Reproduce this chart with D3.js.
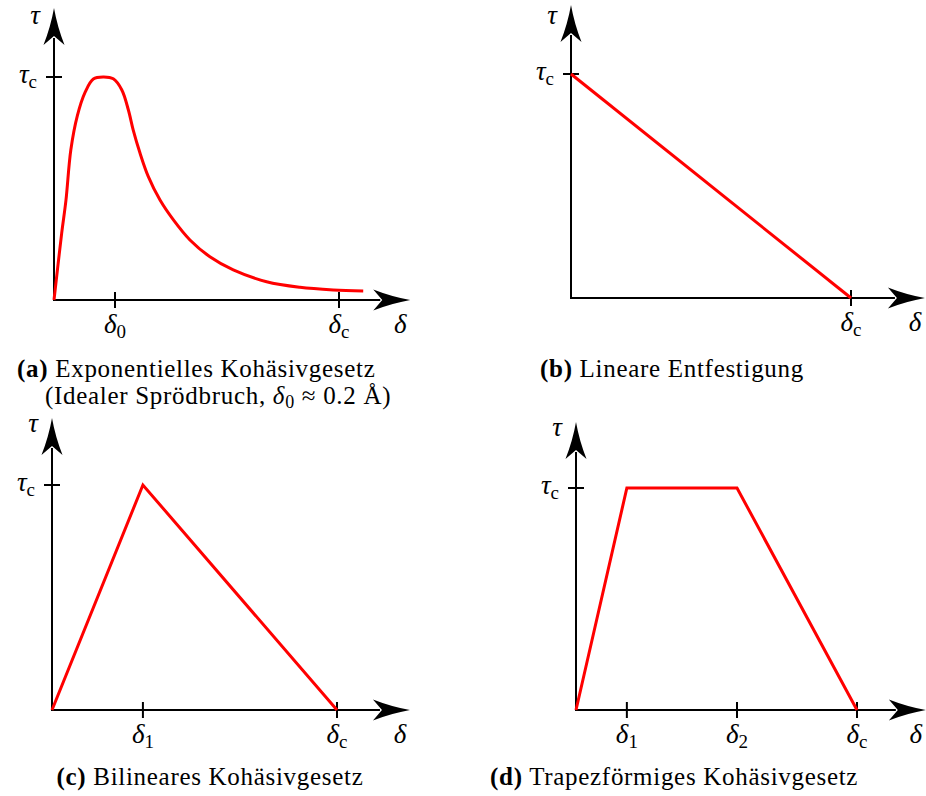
<!DOCTYPE html>
<html>
<head>
<meta charset="utf-8">
<script src="https://cdn.jsdelivr.net/npm/d3@7"></script>
<style>
  body{margin:0;background:#fff;}
  svg{display:block;}
</style>
</head>
<body>
<svg></svg>
<script>
// (a) exponential law (delta in units of delta_c, tau in units of tau_c)
var expDelta = [0, 0.027, 0.042, 0.059, 0.082, 0.109, 0.138, 0.173, 0.208, 0.238, 0.261, 0.278, 0.302,
                0.331, 0.372, 0.419, 0.477, 0.547, 0.629, 0.746, 0.863, 0.980, 1.085];
var expTau   = [0, 0.300, 0.448, 0.673, 0.827, 0.931, 0.991, 1.0, 0.992, 0.942, 0.852, 0.762, 0.658,
                0.553, 0.448, 0.359, 0.269, 0.194, 0.135, 0.082, 0.057, 0.045, 0.040];
var expTicks = [0.214, 1];
var expTickSubs = ["0", "c"];

// (b) linear softening
var linDelta = [0, 1];
var linTau   = [1, 0];
var linTicks = [1];
var linTickSubs = ["c"];

// (c) bilinear
var bilinDelta = [0, 0.319, 1];
var bilinTau   = [0, 1, 0];
var bilinTicks = [0.319, 1];
var bilinTickSubs = ["1", "c"];

// (d) trapezoidal
var trapDelta = [0, 0.181, 0.573, 1];
var trapTau   = [0, 1, 1, 0];
var trapTicks = [0.181, 0.573, 1];
var trapTickSubs = ["1", "2", "c"];

var captionLetters = ["(a)", "(b)", "(c)", "(d)"];
var captionTexts = ["Exponentielles Kohäsivgesetz", "Lineare Entfestigung",
                    "Bilineares Kohäsivgesetz", "Trapezförmiges Kohäsivgesetz"];

var FONT = "'Liberation Serif', 'DejaVu Serif', 'Times New Roman', serif";
var width = 926, height = 796;
var svg = d3.select("svg").attr("width", width).attr("height", height)
  .attr("font-family", FONT);

function zip(xs, ys){
  return xs.map(function(d,i){ return {x:d, y:ys[i]}; });
}

var panels = [
  {ox:54,  oy:300, w:285, h:223, xEnd:1.25,  yEnd:1.309, pts:zip(expDelta,expTau),     ticks:expTicks,   subs:expTickSubs,   smooth:true,
   cap:{x:17,  y:377, anchor:"start"}},
  {ox:571, oy:298, w:280, h:224, xEnd:1.264, yEnd:1.308, pts:zip(linDelta,linTau),     ticks:linTicks,   subs:linTickSubs,
   cap:{x:540, y:377, anchor:"start"}},
  {ox:52,  oy:710, w:285, h:225, xEnd:1.256, yEnd:1.298, pts:zip(bilinDelta,bilinTau), ticks:bilinTicks, subs:bilinTickSubs,
   cap:{x:210, y:785, anchor:"middle"}},
  {ox:576, oy:710, w:281, h:222, xEnd:1.245, yEnd:1.297, pts:zip(trapDelta,trapTau),   ticks:trapTicks,  subs:trapTickSubs,
   cap:{x:490, y:785, anchor:"start"}}
];

// stealth-like arrow head, tip at (tx,ty), dir = "up" or "right"
function arrowHead(tx, ty, dir){
  var L = 37, W = 10.5, N = 9;
  if(dir==="up"){
    return "M"+tx+","+ty+
      "Q"+(tx-W/2+2)+","+(ty+L/2)+" "+(tx-W)+","+(ty+L)+
      "L"+tx+","+(ty+L-N)+
      "L"+(tx+W)+","+(ty+L)+
      "Q"+(tx+W/2-2)+","+(ty+L/2)+" "+tx+","+ty+"Z";
  }
  return "M"+tx+","+ty+
    "Q"+(tx-L/2)+","+(ty-W/2+2)+" "+(tx-L)+","+(ty-W)+
    "L"+(tx-L+N)+","+ty+
    "L"+(tx-L)+","+(ty+W)+
    "Q"+(tx-L/2)+","+(ty+W/2-2)+" "+tx+","+ty+"Z";
}

function mathLabel(g, x, y, anchor, base, sub){
  var t = g.append("text")
    .attr("x", x).attr("y", y)
    .attr("text-anchor", anchor)
    .attr("font-family", FONT)
    .attr("font-size", 27);
  t.append("tspan").attr("font-style", "italic").text(base);
  if(sub){
    t.append("tspan").attr("dy", 5).attr("font-size", 19).text(sub);
  }
  return t;
}

panels.forEach(function(p, k){
  var xScale = d3.scaleLinear().domain([0, 1]).range([p.ox, p.ox + p.w]);
  var yScale = d3.scaleLinear().domain([0, 1]).range([p.oy, p.oy - p.h]);
  var g = svg.append("g");

  // axes
  g.append("line")
    .attr("x1", xScale(0)).attr("y1", yScale(0))
    .attr("x2", xScale(p.xEnd) - 30).attr("y2", yScale(0))
    .attr("stroke", "#000").attr("stroke-width", 2);
  g.append("line")
    .attr("x1", xScale(0)).attr("y1", yScale(0) + 1)
    .attr("x2", xScale(0)).attr("y2", yScale(p.yEnd) + 30)
    .attr("stroke", "#000").attr("stroke-width", 2);
  g.append("path").attr("d", arrowHead(xScale(p.xEnd), yScale(0), "right")).attr("fill", "#000");
  g.append("path").attr("d", arrowHead(xScale(0), yScale(p.yEnd), "up")).attr("fill", "#000");

  // ticks
  g.selectAll("line.xt")
    .data(p.ticks)
    .enter()
    .append("line")
    .attr("class", "xt")
    .attr("x1", function(d){ return xScale(d); })
    .attr("x2", function(d){ return xScale(d); })
    .attr("y1", yScale(0) - 8)
    .attr("y2", yScale(0) + 8)
    .attr("stroke", "#000").attr("stroke-width", 2);
  g.append("line")
    .attr("x1", xScale(0) - 8).attr("x2", xScale(0) + 8)
    .attr("y1", yScale(1)).attr("y2", yScale(1))
    .attr("stroke", "#000").attr("stroke-width", 2);

  // tick labels
  p.ticks.forEach(function(d, i){
    mathLabel(g, xScale(d), yScale(0) + 33, "middle", "δ", p.subs[i]);
  });
  mathLabel(g, xScale(0) - 17, yScale(1) + 6, "end", "τ", "c");
  mathLabel(g, xScale(0) - 14, Math.max(yScale(p.yEnd) + 14, 24), "end", "τ");
  mathLabel(g, xScale(p.xEnd) - 10, yScale(0) + 33, "middle", "δ");

  // the law itself
  var lineMaker = d3.line()
    .x(function(d){ return xScale(d.x); })
    .y(function(d){ return yScale(d.y); })
    .curve(p.smooth ? d3.curveCatmullRom.alpha(0.5) : d3.curveLinear);
  g.append("path")
    .attr("d", lineMaker(p.pts))
    .attr("fill", "none")
    .attr("stroke", "#f00")
    .attr("stroke-width", 3)
    .attr("stroke-linejoin", "miter");

  // caption
  var cap = g.append("text")
    .attr("x", p.cap.x).attr("y", p.cap.y)
    .attr("text-anchor", p.cap.anchor)
    .attr("font-family", FONT)
    .attr("font-size", 25)
    .attr("letter-spacing", 0.7);
  cap.append("tspan").attr("font-weight", "bold").text(captionLetters[k]);
  cap.append("tspan").text(" " + captionTexts[k]);
});

// second line of caption (a)
var cap2 = svg.append("text").attr("x", 45).attr("y", 404)
  .attr("font-family", FONT).attr("font-size", 25).attr("letter-spacing", 0.7);
cap2.append("tspan").text("(Idealer Sprödbruch, ");
cap2.append("tspan").attr("font-style", "italic").text("δ");
cap2.append("tspan").attr("dy", 4).attr("font-size", 18).text("0");
cap2.append("tspan").attr("dy", -4).text(" ≈ 0.2 Å)");
</script>
</body>
</html>
